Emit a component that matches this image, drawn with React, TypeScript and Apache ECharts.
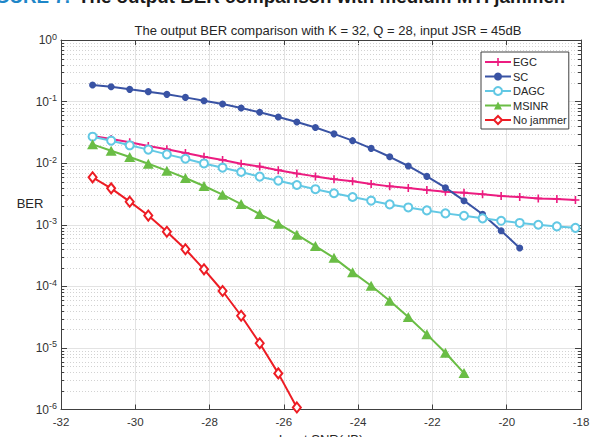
import React, { useEffect, useRef } from "react";
import * as echarts from "echarts";

const snr = [
  -31.15, -30.65, -30.15, -29.65, -29.15, -28.65, -28.15, -27.65, -27.15,
  -26.65, -26.15, -25.65, -25.15, -24.65, -24.15, -23.65, -23.15, -22.65,
  -22.15, -21.65, -21.15, -20.65, -20.15, -19.65, -19.15, -18.65, -18.15,
];

const egc = [
  0.0276, 0.0247, 0.0218, 0.019, 0.0168, 0.0146, 0.0127, 0.0113, 0.0098,
  0.0088, 0.0077, 0.0068, 0.0061, 0.0055, 0.0051, 0.0046, 0.0042, 0.00395,
  0.00366, 0.00344, 0.00332, 0.00312, 0.00293, 0.00282, 0.00268, 0.00262,
  0.00252,
];
const sc = [
  0.186, 0.174, 0.158, 0.145, 0.131, 0.117, 0.1035, 0.0914, 0.0787, 0.0669,
  0.0562, 0.0466, 0.038, 0.0299, 0.0232, 0.0174, 0.0127, 0.009, 0.0061, 0.004,
  0.00246, 0.00148, 0.0008, 0.00042,
];
const dagc = [
  0.0269, 0.0232, 0.0195, 0.0166, 0.0139, 0.0118, 0.0099, 0.00845, 0.00718,
  0.00604, 0.0052, 0.00442, 0.00378, 0.00325, 0.00282, 0.00246, 0.00214,
  0.00191, 0.00171, 0.00153, 0.0014, 0.00127, 0.00116, 0.00107, 0.001,
  0.00094, 0.00089,
];
const msinr = [
  0.0202, 0.0159, 0.0126, 0.0098, 0.00755, 0.00574, 0.00426, 0.00308, 0.00217,
  0.00149, 0.00104, 0.00069, 0.00045, 0.00029, 0.00017, 0.000102, 5.85e-5,
  3.18e-5, 1.66e-5, 8.36e-6, 3.9e-6,
];
const noJammer = [
  0.00589, 0.0039, 0.00237, 0.00141, 0.00077, 0.0004, 0.000189, 8.4e-5,
  3.33e-5, 1.19e-5, 3.86e-6, 1.08e-6,
];

const seriesNames = ["EGC", "SC", "DAGC", "MSINR", "No jammer"];
const xTicks = [-32, -18, 2]; // min, max, interval
const yRange = [1e-6, 1];
const minorMultipliers = [2, 3, 4, 5, 6, 7, 8, 9];
const minorDecades = [1e-6, 1e-5, 1e-4, 1e-3, 1e-2, 1e-1];

const FONT = '"Liberation Sans", Arial, Helvetica, sans-serif';

export default function App() {
  const ref = useRef<HTMLDivElement>(null);

  useEffect(() => {
    document.body.style.margin = "0";
    if (!ref.current) return;
    const chart = echarts.init(ref.current, null, { renderer: "svg" });

    const pairs = (ys: number[]) => ys.map((y, i) => [snr[i], y]);
    const minorVals: number[][] = [];
    minorDecades.forEach((d) =>
      minorMultipliers.forEach((m) => minorVals.push([xTicks[0], m * d]))
    );

    const lineSeries = (
      name: string,
      data: number[],
      color: string,
      symbol: string,
      symbolSize: any,
      empty: boolean
    ) => ({
      type: "line",
      name,
      data: pairs(data),
      symbol,
      symbolSize,
      showSymbol: true,
      lineStyle: { color, width: 2 },
      itemStyle: empty
        ? { color: "#ffffff", borderColor: color, borderWidth: 2 }
        : { color, borderColor: color, borderWidth: 0 },
      z: 3,
    });

    const axisColor = "#404040";

    chart.setOption({
      animation: false,
      backgroundColor: "#ffffff",
      textStyle: { fontFamily: FONT },
      title: {
        text: "The output BER comparison with K = 32, Q = 28, input JSR = 45dB",
        left: 323,
        top: 19,
        textAlign: "center",
        textStyle: {
          fontSize: 13,
          fontWeight: "normal",
          color: "#262626",
          fontFamily: FONT,
        },
      },
      grid: { left: 61, right: 20, top: 40, bottom: 27.5 },
      legend: {
        data: seriesNames,
        orient: "vertical",
        left: 481,
        top: 52,
        padding: [4, 2, 3, 3],
        itemWidth: 26,
        itemHeight: 10,
        itemGap: 2.5,
        borderColor: "#404040",
        borderWidth: 1,
        backgroundColor: "#ffffff",
        textStyle: {
          fontSize: 11,
          lineHeight: 12,
          color: "#262626",
          fontFamily: FONT,
          padding: [0, 0, 0, -3],
        },
      },
      xAxis: [
        {
          type: "value",
          min: xTicks[0],
          max: xTicks[1],
          interval: xTicks[2],
          axisLine: { show: true, lineStyle: { color: axisColor, width: 1 } },
          axisTick: { inside: true, length: 5, lineStyle: { color: axisColor } },
          axisLabel: {
            fontSize: 11.5,
            color: "#333333",
            margin: 6,
            fontFamily: FONT,
          },
          splitLine: { show: true, lineStyle: { color: "#e3e3e3", width: 1 } },
        },
        {
          type: "value",
          position: "top",
          min: xTicks[0],
          max: xTicks[1],
          interval: xTicks[2],
          axisLine: { show: true, lineStyle: { color: axisColor, width: 1 } },
          axisTick: { inside: true, length: 5, lineStyle: { color: axisColor } },
          axisLabel: { show: false },
          splitLine: { show: false },
        },
      ],
      yAxis: [
        {
          type: "log",
          logBase: 10,
          min: yRange[0],
          max: yRange[1],
          axisLine: { show: true, lineStyle: { color: axisColor, width: 1 } },
          axisTick: { inside: true, length: 6, lineStyle: { color: axisColor } },
          axisLabel: {
            margin: 4,
            color: "#333333",
            fontSize: 12,
            fontFamily: FONT,
            formatter: (v: number) => {
              const e = Math.round(Math.log10(v));
              return "10{sup|" + e + "}";
            },
            rich: {
              sup: {
                fontSize: 9,
                color: "#333333",
                fontFamily: FONT,
                verticalAlign: "bottom",
                padding: [0, 0, 7, 0],
              },
            },
          },
          splitLine: { show: true, lineStyle: { color: "#e3e3e3", width: 1 } },
        },
        {
          type: "log",
          logBase: 10,
          position: "right",
          min: yRange[0],
          max: yRange[1],
          axisLine: { show: true, lineStyle: { color: axisColor, width: 1 } },
          axisTick: { inside: true, length: 6, lineStyle: { color: axisColor } },
          axisLabel: { show: false },
          splitLine: { show: false },
        },
      ],
      series: [
        {
          type: "custom",
          name: "minor",
          xAxisIndex: 0,
          yAxisIndex: 0,
          silent: true,
          z: 1,
          data: minorVals,
          encode: { x: 0, y: 1 },
          renderItem: (params: any, api: any) => {
            const p = api.coord([api.value(0), api.value(1)]);
            const cs = params.coordSys;
            const y = Math.round(p[1]) + 0.5;
            return {
              type: "group",
              children: [
                {
                  type: "line",
                  shape: { x1: cs.x, y1: y, x2: cs.x + cs.width, y2: y },
                  style: { stroke: "#d2d2d2", lineWidth: 1, lineDash: [1, 2] },
                },
                {
                  type: "line",
                  shape: { x1: cs.x, y1: y, x2: cs.x + 3, y2: y },
                  style: { stroke: axisColor, lineWidth: 1 },
                },
                {
                  type: "line",
                  shape: {
                    x1: cs.x + cs.width - 3,
                    y1: y,
                    x2: cs.x + cs.width,
                    y2: y,
                  },
                  style: { stroke: axisColor, lineWidth: 1 },
                },
              ],
            };
          },
        },
        lineSeries(
          "EGC",
          egc,
          "#ec1c80",
          "path://M4,0H6V4H10V6H6V10H4V6H0V4H4Z",
          8,
          false
        ),
        lineSeries("SC", sc, "#3953a4", "circle", 7, false),
        lineSeries("DAGC", dagc, "#62c8e4", "circle", 8, true),
        lineSeries("MSINR", msinr, "#6abd45", "triangle", [11, 10], false),
        lineSeries("No jammer", noJammer, "#ed1c24", "diamond", [8, 10], true),
      ],
      graphic: [
        {
          type: "text",
          x: 70,
          y: 6,
          style: {
            text: "FIGURE 7.",
            textAlign: "right",
            textVerticalAlign: "bottom",
            font: 'bold 18.8px "Liberation Sans", Arial, sans-serif',
            fill: "#1d86c8",
          },
        },
        {
          type: "text",
          x: 78,
          y: 6,
          style: {
            text: "The output BER comparison with medium MTI jammer.",
            textAlign: "left",
            textVerticalAlign: "bottom",
            font: 'bold 18.8px "Liberation Sans", Arial, sans-serif',
            fill: "#1a1a1a",
          },
        },
        {
          type: "text",
          x: 30,
          y: 203,
          style: {
            text: "BER",
            textAlign: "center",
            textVerticalAlign: "middle",
            font: '13px "Liberation Sans", Arial, sans-serif',
            fill: "#262626",
          },
        },
        {
          type: "text",
          x: 321,
          y: 433,
          style: {
            text: "Input SNR(dB)",
            textAlign: "center",
            textVerticalAlign: "top",
            font: '13px "Liberation Sans", Arial, sans-serif',
            fill: "#262626",
          },
        },
      ],
    });

    return () => chart.dispose();
  }, []);

  return <div ref={ref} style={{ width: 601, height: 437 }} />;
}
